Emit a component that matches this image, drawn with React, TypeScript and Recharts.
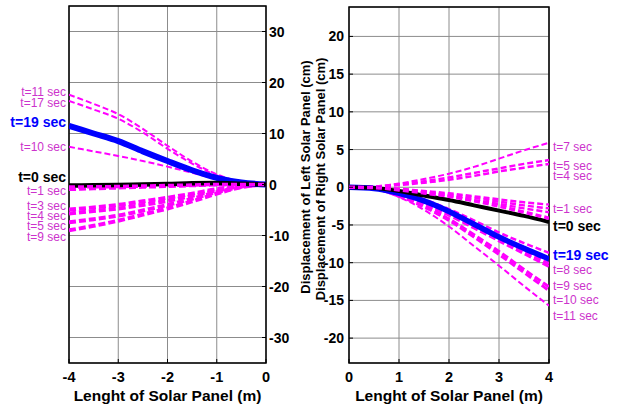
import React from 'react';
import { LineChart, Line, XAxis, YAxis, CartesianGrid, ReferenceArea, ReferenceDot } from 'recharts';

// ---------- data ----------
const leftX = [-4, -3.5, -3, -2.5, -2, -1.5, -1, -0.5, 0];
const rightX = [0, 0.5, 1, 1.5, 2, 2.5, 3, 3.5, 4];

// Left solar panel displacement (cm)
const L_t11 = [17.6, 15.8, 13.8, 10.9, 7.6, 4.5, 2.0, 0.5, 0];
const L_t17 = [16.4, 14.7, 12.9, 10.2, 7.0, 4.1, 1.8, 0.4, 0];
const L_t10 = [7.4, 6.5, 5.6, 4.6, 3.5, 2.3, 1.1, 0.3, 0];
const L_t19 = [11.5, 10.0, 8.5, 6.5, 4.6, 2.8, 1.3, 0.4, 0];
const L_t0 = [-0.2, -0.15, -0.1, 0.0, 0.1, 0.25, 0.3, 0.15, 0];
const L_tA = [-0.5, -0.45, -0.4, -0.3, -0.2, -0.1, 0.0, 0.0, 0];
const L_t1 = [-1.0, -0.85, -0.7, -0.55, -0.4, -0.25, -0.1, 0.0, 0];
const L_t3 = [-4.9, -4.5, -4.0, -3.3, -2.6, -1.8, -0.9, -0.25, 0];
const L_t4 = [-5.7, -5.2, -4.7, -4.0, -3.2, -2.2, -1.2, -0.35, 0];
const L_t5 = [-7.4, -6.8, -6.1, -5.1, -4.0, -2.8, -1.5, -0.45, 0];
const L_t9 = [-9.0, -8.1, -7.1, -5.9, -4.7, -3.3, -1.8, -0.5, 0];

// Right solar panel displacement (cm)
const R_t7 = [0, 0.1, 0.5, 1.1, 1.8, 2.7, 3.8, 4.9, 5.9];
const R_t5 = [0, 0.1, 0.4, 0.8, 1.3, 1.9, 2.5, 3.1, 3.6];
const R_t4 = [0, 0.05, 0.3, 0.6, 1.0, 1.5, 2.1, 2.6, 3.1];
const R_tA = [0, -0.05, -0.2, -0.5, -0.8, -1.2, -1.6, -2.0, -2.3];
const R_t1 = [0, -0.05, -0.25, -0.6, -1.0, -1.4, -1.9, -2.4, -2.8];
const R_tB = [0, -0.05, -0.3, -0.7, -1.2, -1.7, -2.2, -2.8, -3.3];
const R_t0 = [0, -0.1, -0.5, -1.1, -1.7, -2.4, -3.1, -3.8, -4.6];
const R_tC = [0, -0.05, -0.35, -0.75, -1.2, -1.8, -2.5, -3.3, -4.1];
const R_tD = [0, -0.1, -0.7, -1.6, -2.9, -4.4, -6.0, -7.4, -8.7];
const R_t19 = [0, -0.15, -0.8, -1.8, -3.2, -4.9, -6.6, -8.1, -9.5];
const R_t8 = [0, -0.15, -0.9, -2.0, -3.5, -5.1, -6.8, -8.5, -10.1];
const R_tE = [0, -0.2, -1.0, -2.2, -3.7, -5.4, -7.1, -8.8, -10.5];
const R_t9 = [0, -0.2, -1.1, -2.4, -4.2, -6.3, -8.5, -10.9, -13.2];
const R_t10 = [0, -0.2, -1.2, -2.6, -4.4, -6.6, -8.9, -11.3, -13.7];
const R_t11 = [0, -0.25, -1.3, -3.0, -5.2, -7.8, -10.4, -13.1, -15.7];

const leftYTicks = [-30, -20, -10, 0, 10, 20, 30];
const rightYTicks = [-20, -15, -10, -5, 0, 5, 10, 15, 20];
const leftXTicks = [-4, -3, -2, -1, 0];
const rightXTicks = [0, 1, 2, 3, 4];

// curve-end annotations (text, value where the text sits)
const leftLabelText = ['t=11 sec', 't=17 sec', 't=19 sec', 't=10 sec', 't=0 sec', 't=1 sec', 't=3 sec', 't=4 sec', 't=5 sec', 't=9 sec'];
const leftLabelAt = [18.1, 16.0, 12.2, 7.5, 1.4, -1.2, -4.2, -6.1, -8.0, -10.3];
const rightLabelText = ['t=7 sec', 't=5 sec', 't=4 sec', 't=1 sec', 't=0 sec', 't=19 sec', 't=8 sec', 't=9 sec', 't=10 sec', 't=11 sec'];
const rightLabelAt = [5.4, 2.9, 1.5, -2.8, -5.2, -9.0, -11.0, -13.0, -14.9, -17.0];

// ---------- styling ----------
const FONT = '"Liberation Sans", Arial, Helvetica, sans-serif';
const MAG = '#ff00ff';
const MAG_TEXT = '#cc33cc';
const GRID = '#8c8c8c';

const labelStyle = (t: string) => {
  if (t === 't=19 sec') return { fill: '#0000ff', fontWeight: 700, fontSize: 14 };
  if (t === 't=0 sec') return { fill: '#000000', fontWeight: 700, fontSize: 14 };
  return { fill: MAG_TEXT, fontWeight: 400, fontSize: 12 };
};

type S = { key: string; vals: number[]; color: string; w: number; dash?: string };

const leftSeries: S[] = [
  { key: 't11', vals: L_t11, color: MAG, w: 2, dash: '6 3' },
  { key: 't17', vals: L_t17, color: MAG, w: 2, dash: '6 3' },
  { key: 't10', vals: L_t10, color: MAG, w: 2, dash: '6 3' },
  { key: 't3', vals: L_t3, color: MAG, w: 4, dash: '7 3' },
  { key: 't4', vals: L_t4, color: MAG, w: 4, dash: '7 3' },
  { key: 't5', vals: L_t5, color: MAG, w: 4, dash: '7 3' },
  { key: 't9', vals: L_t9, color: MAG, w: 4, dash: '7 3' },
  { key: 't1', vals: L_t1, color: MAG, w: 3, dash: '7 3' },
  { key: 't19', vals: L_t19, color: '#0000ff', w: 6 },
  { key: 't0', vals: L_t0, color: '#000000', w: 4.5 },
  { key: 'tA', vals: L_tA, color: MAG, w: 3.5, dash: '6 3' },
];

const rightSeries: S[] = [
  { key: 't7', vals: R_t7, color: MAG, w: 2, dash: '6 3' },
  { key: 't5', vals: R_t5, color: MAG, w: 2.5, dash: '6 3' },
  { key: 't4', vals: R_t4, color: MAG, w: 2.5, dash: '6 3' },
  { key: 'tA', vals: R_tA, color: MAG, w: 2.5, dash: '6 3' },
  { key: 't1', vals: R_t1, color: MAG, w: 2.5, dash: '6 3' },
  { key: 'tB', vals: R_tB, color: MAG, w: 2.5, dash: '6 3' },
  { key: 't11', vals: R_t11, color: MAG, w: 2, dash: '6 3' },
  { key: 't10', vals: R_t10, color: MAG, w: 3, dash: '7 3' },
  { key: 't9', vals: R_t9, color: MAG, w: 3, dash: '7 3' },
  { key: 'tE', vals: R_tE, color: MAG, w: 3, dash: '7 3' },
  { key: 't8', vals: R_t8, color: MAG, w: 3, dash: '7 3' },
  { key: 'tD', vals: R_tD, color: MAG, w: 2.5, dash: '6 3' },
  { key: 't19', vals: R_t19, color: '#0000ff', w: 5.5 },
  { key: 't0', vals: R_t0, color: '#000000', w: 4 },
  { key: 'tC', vals: R_tC, color: MAG, w: 3.5, dash: '6 3' },
];

const leftData = leftX.map((x, i) => {
  const row: any = { x };
  leftSeries.forEach((s) => (row[s.key] = s.vals[i]));
  return row;
});
const rightData = rightX.map((x, i) => {
  const row: any = { x };
  rightSeries.forEach((s) => (row[s.key] = s.vals[i]));
  return row;
});

// ---------- tick renderers ----------
const TICK_FS = 14;

const XTick = (p: any) => {
  const { x, y, payload } = p;
  const m = 9;
  return (
    <g>
      <line x1={x} x2={x} y1={y - m} y2={y - m - 4} stroke="#000" strokeWidth={1} />
      <text x={x} y={y} dy={10} textAnchor="middle" fontFamily={FONT} fontWeight={700} fontSize={TICK_FS + 0.5} fill="#000">
        {payload.value}
      </text>
    </g>
  );
};

const YTickRightSide = (p: any) => {
  const { x, y, payload } = p;
  const m = 3;
  return (
    <g>
      <line x1={x - m} x2={x - m - 4} y1={y} y2={y} stroke="#000" strokeWidth={1} />
      <text x={x} y={y} dy={5} textAnchor="start" fontFamily={FONT} fontWeight={700} fontSize={TICK_FS} fill="#000">
        {payload.value}
      </text>
    </g>
  );
};

const YTickLeftSide = (p: any) => {
  const { x, y, payload } = p;
  const m = 5;
  return (
    <g>
      <line x1={x + m} x2={x + m + 4} y1={y} y2={y} stroke="#000" strokeWidth={1} />
      <text x={x} y={y} dy={5} textAnchor="end" fontFamily={FONT} fontWeight={700} fontSize={TICK_FS} fill="#000">
        {payload.value}
      </text>
    </g>
  );
};

const xTitle = {
  value: 'Lenght of Solar Panel (m)',
  position: 'insideBottom' as const,
  offset: 10,
  style: { fontFamily: FONT, fontWeight: 700, fontSize: 15.5, fill: '#000' },
};

export default function App() {
  return (
    <div style={{ position: 'fixed', left: 0, top: 0, width: 620, height: 411, background: '#fff' }}>
      <div style={{ position: 'absolute', left: 0, top: 0 }}>
        <LineChart width={300} height={411} data={leftData} margin={{ top: 6, right: 0, bottom: 0, left: 69 }}>
          <CartesianGrid stroke={GRID} strokeWidth={1} />
          <XAxis
            dataKey="x"
            type="number"
            domain={[-4, 0]}
            ticks={leftXTicks}
            allowDataOverflow
            height={48}
            tickLine={false}
            axisLine={false}
            tickSize={0}
            tickMargin={9}
            tick={<XTick />}
            label={xTitle}
          />
          <YAxis
            orientation="right"
            type="number"
            domain={[-35, 35]}
            ticks={leftYTicks}
            allowDataOverflow
            width={34}
            tickLine={false}
            axisLine={false}
            tickSize={0}
            tickMargin={3}
            tick={<YTickRightSide />}
          />
          {leftSeries.map((s) => (
            <Line
              key={s.key}
              dataKey={s.key}
              type="monotone"
              stroke={s.color}
              strokeWidth={s.w}
              strokeDasharray={s.dash}
              dot={false}
              activeDot={false}
              isAnimationActive={false}
            />
          ))}
          <ReferenceArea x1={-4} x2={0} y1={-35} y2={35} fill="none" fillOpacity={0} stroke="#000" strokeWidth={1.5} ifOverflow="visible" />
          {leftLabelText.map((t, i) => (
            <ReferenceDot
              key={t}
              x={-4}
              y={leftLabelAt[i]}
              r={0}
              fill="none"
              stroke="none"
              ifOverflow="visible"
              label={{ value: t, position: 'left', offset: 3, style: { fontFamily: FONT, ...labelStyle(t) } }}
            />
          ))}
        </LineChart>
      </div>
      <div style={{ position: 'absolute', left: 300, top: 0 }}>
        <LineChart width={320} height={411} data={rightData} margin={{ top: 7, right: 71, bottom: 0, left: 0 }}>
          <CartesianGrid stroke={GRID} strokeWidth={1} />
          <XAxis
            dataKey="x"
            type="number"
            domain={[0, 4]}
            ticks={rightXTicks}
            allowDataOverflow
            height={48}
            tickLine={false}
            axisLine={false}
            tickSize={0}
            tickMargin={9}
            tick={<XTick />}
            label={xTitle}
          />
          <YAxis
            orientation="left"
            type="number"
            domain={[-23.3, 23.9]}
            ticks={rightYTicks}
            allowDataOverflow
            width={49}
            tickLine={false}
            axisLine={false}
            tickSize={0}
            tickMargin={5}
            tick={<YTickLeftSide />}
          />
          {rightSeries.map((s) => (
            <Line
              key={s.key}
              dataKey={s.key}
              type="monotone"
              stroke={s.color}
              strokeWidth={s.w}
              strokeDasharray={s.dash}
              dot={false}
              activeDot={false}
              isAnimationActive={false}
            />
          ))}
          <ReferenceArea x1={0} x2={4} y1={-23.3} y2={23.9} fill="none" fillOpacity={0} stroke="#000" strokeWidth={1.5} ifOverflow="visible" />
          {rightLabelText.map((t, i) => (
            <ReferenceDot
              key={t}
              x={4}
              y={rightLabelAt[i]}
              r={0}
              fill="none"
              stroke="none"
              ifOverflow="visible"
              label={{ value: t, position: 'right', offset: 4, style: { fontFamily: FONT, ...labelStyle(t) } }}
            />
          ))}
        </LineChart>
      </div>
      <svg width={620} height={411} style={{ position: 'absolute', left: 0, top: 0, pointerEvents: 'none' }}>
        <text x={310} y={177} transform="rotate(-90 310 177)" textAnchor="middle" fontFamily={FONT} fontWeight={700} fontSize={13} fill="#000">
          Displacement of Left Solar Panel (cm)
        </text>
        <text x={325} y={179} transform="rotate(-90 325 179)" textAnchor="middle" fontFamily={FONT} fontWeight={700} fontSize={13} fill="#000">
          Displacement of Right Solar Panel (cm)
        </text>
      </svg>
    </div>
  );
}
